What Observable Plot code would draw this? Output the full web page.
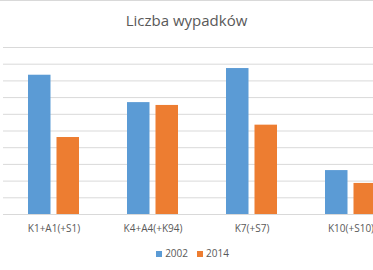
<!DOCTYPE html>
<html><head><meta charset="utf-8">
<script src="https://cdn.jsdelivr.net/npm/d3@7"></script>
<script src="https://cdn.jsdelivr.net/npm/@observablehq/plot@0.6"></script>
<style>
html,body{margin:0;padding:0;background:#fff;overflow:hidden;width:373px;height:270px;}
#wrap{position:relative;width:373px;height:270px;overflow:hidden;border-top:1px solid #d9d9d9;box-sizing:border-box;}
#title{position:absolute;left:0;width:373px;top:9px;text-align:center;font-family:"Open Sans",sans-serif;font-size:15px;color:#595959;}
#chart{position:absolute;left:0;top:-1px;width:401px;}
#chart svg{max-width:none !important;width:401px;height:240px;}
#legend{position:absolute;left:6px;width:373px;top:245px;text-align:center;font-family:"Open Sans",sans-serif;font-size:10px;color:#595959;}
#legend span.sw{display:inline-block;width:6px;height:6px;margin-right:3px;vertical-align:0px;}
#legend span.it{margin:0 4.5px;}
</style></head>
<body><div id="wrap"><div id="title">Liczba wypadków</div><div id="chart"></div><div id="legend"></div></div>
<script>
const categories = ["K1+A1(+S1)", "K4+A4(+K94)", "K7(+S7)", "K10(+S10)"];
const series = ["2002", "2014"];
const values2002 = [834, 670, 874, 263];
const values2014 = [461, 653, 535, 186];
const colors = ["#5b9bd5", "#ed7d31"];
const yTicks = [0, 100, 200, 300, 400, 500, 600, 700, 800, 900, 1000];

const d2002 = categories.map((c, i) => ({cat: c, value: values2002[i]}));
const d2014 = categories.map((c, i) => ({cat: c, value: values2014[i]}));

const chart = Plot.plot({
  width: 401,
  height: 240,
  marginLeft: 3,
  marginRight: 0,
  marginTop: 47,
  marginBottom: 26,
  style: {fontFamily: "'Open Sans', sans-serif", fontSize: "10px", color: "#595959", background: "transparent", overflow: "visible"},
  x: {domain: categories, paddingInner: 0.488, paddingOuter: 0.244, label: null, tickSize: 0, tickPadding: 9},
  y: {domain: [0, 1000], axis: null},
  marks: [
    Plot.ruleY(yTicks, {stroke: "#d9d9d9", strokeWidth: 1}),
    Plot.barY(d2002, {x: "cat", y: "value", fill: colors[0], insetLeft: 0, insetRight: 28.5}),
    Plot.barY(d2014, {x: "cat", y: "value", fill: colors[1], insetLeft: 28.5, insetRight: 0}),
    Plot.axisX({tickSize: 0, tickPadding: 10, fill: "#595959"})
  ]
});
document.getElementById("chart").appendChild(chart);

const leg = document.getElementById("legend");
series.forEach((s, i) => {
  const it = document.createElement("span");
  it.className = "it";
  const sw = document.createElement("span");
  sw.className = "sw";
  sw.style.background = colors[i];
  it.appendChild(sw);
  it.appendChild(document.createTextNode(s));
  leg.appendChild(it);
});
</script></body></html>
